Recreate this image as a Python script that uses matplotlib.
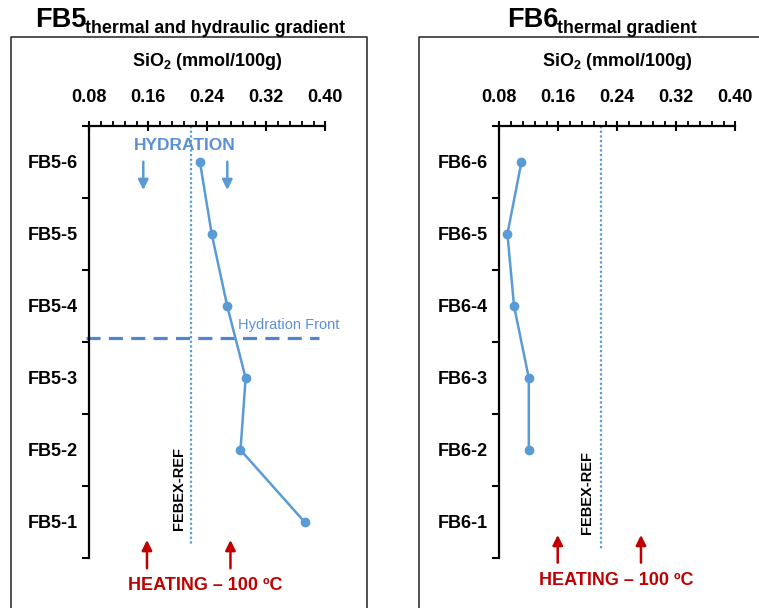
import numpy as np
import matplotlib
matplotlib.use("Agg")
import matplotlib.pyplot as plt
from matplotlib.lines import Line2D

plt.rcParams['font.family'] = ['Liberation Sans', 'DejaVu Sans']
plt.rcParams['mathtext.fontset'] = 'custom'
plt.rcParams['mathtext.rm'] = 'Liberation Sans:bold'
plt.rcParams['mathtext.default'] = 'rm'

# ---------------- data ----------------
categories_fb5 = ['FB5-6', 'FB5-5', 'FB5-4', 'FB5-3', 'FB5-2', 'FB5-1']
sio2_fb5 = [0.230, 0.246, 0.267, 0.292, 0.285, 0.372]
categories_fb6 = ['FB6-6', 'FB6-5', 'FB6-4', 'FB6-3', 'FB6-2', 'FB6-1']
sio2_fb6 = [0.110, 0.091, 0.100, 0.120, 0.120, np.nan]
febex_ref = 0.218
xticks = [0.08, 0.16, 0.24, 0.32, 0.40]
xtick_labels = ['0.08', '0.16', '0.24', '0.32', '0.40']
hydration_front_pos = 2.94   # in category units (between FB5-4 and FB5-3)

BLUE = '#5B9BD5'
BLUE_TXT = '#5B8FD6'
DASH_BLUE = '#4F86CF'
RED = '#C00000'

W, H = 759, 608
fig = plt.figure(figsize=(W / 100, H / 100), dpi=100)


def fx(px):
    return px / W


def fy(py):
    return 1 - py / H


def setup_axes(ax, cats):
    n = len(cats)
    ax.set_xlim(0.08, 0.40)
    ax.set_ylim(n, 0)
    ax.xaxis.tick_top()
    ax.set_xticks(xticks)
    ax.set_xticklabels(xtick_labels, fontsize=13, fontweight='bold')
    ax.set_xticks(np.arange(0.08, 0.4001, 0.016), minor=True)
    ax.tick_params(axis='x', which='major', direction='inout', length=7,
                   width=1.5, pad=11, top=True, bottom=False)
    ax.tick_params(axis='x', which='minor', direction='out', length=3.5,
                   width=1.3, top=True, bottom=False)
    ax.set_yticks(np.arange(n) + 0.5)
    ax.set_yticklabels(cats, fontsize=13, fontweight='bold')
    ax.set_yticks(np.arange(0, n + 1), minor=True)
    ax.tick_params(axis='y', which='major', length=0, pad=8)
    ax.tick_params(axis='y', which='minor', direction='out', length=5, width=1.5)
    for s in ['bottom', 'right']:
        ax.spines[s].set_visible(False)
    for s in ['top', 'left']:
        ax.spines[s].set_linewidth(1.6)
    ax.patch.set_alpha(0)
    ax.text(0.5, (558 - 62) / 432, r'SiO$_2$ (mmol/100g)', transform=ax.transAxes,
            ha='center', va='center', fontsize=13, fontweight='bold')


ARROW_BLUE = dict(arrowstyle='-|>', color=BLUE, lw=1.8, mutation_scale=15,
                  shrinkA=0, shrinkB=0)
ARROW_RED = dict(arrowstyle='-|>', color=RED, lw=1.8, mutation_scale=15,
                 shrinkA=0, shrinkB=0)

# frames
for x0, x1 in [(11, 367.3), (419, 770)]:
    fig.add_artist(Line2D([fx(x0), fx(x0), fx(x1), fx(x1)],
                          [fy(620), fy(36.7), fy(36.7), fy(620)],
                          color='#333333', lw=1.2, transform=fig.transFigure))

# titles
fig.text(fx(35), fy(27), 'FB5', fontsize=19.5, fontweight='bold', va='baseline', ha='left')
fig.text(fx(85), fy(33.3), 'thermal and hydraulic gradient', fontsize=12.8,
         fontweight='bold', va='baseline', ha='left')
fig.text(fx(506.7), fy(27), 'FB6', fontsize=19.5, fontweight='bold', va='baseline', ha='left')
fig.text(fx(556.7), fy(33.3), 'thermal gradient', fontsize=12.8,
         fontweight='bold', va='baseline', ha='left')

# ---------------- FB5 panel ----------------
ax1 = fig.add_axes([fx(89.3), fy(558), 236 / W, 432 / H])
setup_axes(ax1, categories_fb5)
y5 = np.arange(len(categories_fb5)) + 0.5
ax1.plot(sio2_fb5, y5, color=BLUE, lw=1.8, marker='o', ms=6, zorder=5, clip_on=False)
ax1.plot([febex_ref, febex_ref], [0, 5.806], color=BLUE, lw=1.6,
         linestyle=(0, (1, 1.1)), clip_on=False)
ax1.plot([0.0755, 0.3915], [hydration_front_pos, hydration_front_pos], color=DASH_BLUE,
         lw=2.3, linestyle=(0, (4.4, 2.6)), clip_on=False)
ax1.text(0.282, 2.764, 'Hydration Front', color=BLUE_TXT, fontsize=10.5,
         ha='left', va='center')
ax1.text(0.2098, 0.264, 'HYDRATION', color=BLUE_TXT, fontsize=12.5,
         fontweight='bold', ha='center', va='center')
for xa in [0.1532, 0.2671]:
    ax1.annotate('', xy=(xa, 0.889), xytext=(xa, 0.496), arrowprops=ARROW_BLUE)
for xa in [0.1582, 0.2714]:
    ax1.annotate('', xy=(xa, 5.75), xytext=(xa, 6.143), annotation_clip=False,
                 arrowprops=ARROW_RED)
ax1.text(0.2376, 6.375, 'HEATING – 100 ºC', color=RED, fontsize=13,
         fontweight='bold', ha='center', va='center', clip_on=False)
ax1.text(0.2023, 5.04, 'FEBEX-REF', rotation=90, fontsize=10.5, fontweight='bold',
         ha='center', va='center')

# ---------------- FB6 panel ----------------
ax2 = fig.add_axes([fx(499.3), fy(558), 236 / W, 432 / H])
setup_axes(ax2, categories_fb6)
y6 = np.arange(len(categories_fb6)) + 0.5
ax2.plot(sio2_fb6, y6, color=BLUE, lw=1.8, marker='o', ms=6, zorder=5, clip_on=False)
ax2.plot([febex_ref, febex_ref], [0, 5.875], color=BLUE, lw=1.6,
         linestyle=(0, (1, 1.1)), clip_on=False)
for xa in [0.1592, 0.2721]:
    ax2.annotate('', xy=(xa, 5.68), xytext=(xa, 6.065), annotation_clip=False,
                 arrowprops=ARROW_RED)
ax2.text(0.2382, 6.306, 'HEATING – 100 ºC', color=RED, fontsize=13,
         fontweight='bold', ha='center', va='center', clip_on=False)
ax2.text(0.1989, 5.097, 'FEBEX-REF', rotation=90, fontsize=10.5, fontweight='bold',
         ha='center', va='center')

fig.savefig('out.png', dpi=100)
